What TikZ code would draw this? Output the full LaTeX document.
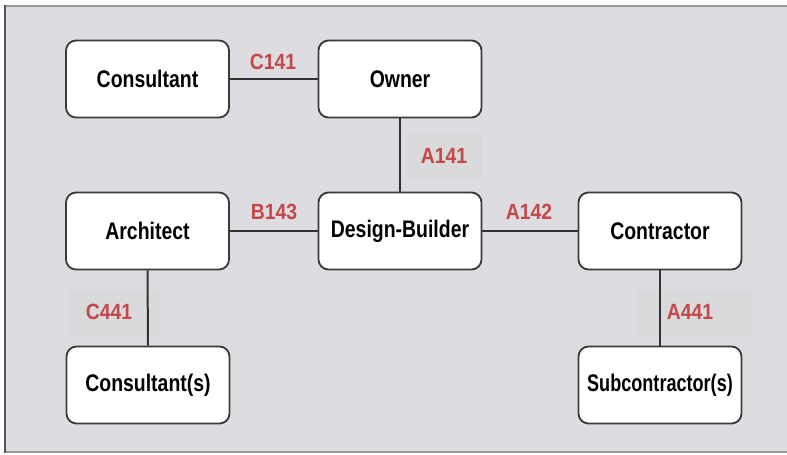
\documentclass[tikz,border=0pt]{standalone}
\usepackage{fontspec}
\newfontfamily\dfont[FakeStretch=0.81]{Liberation Sans}
\newfontfamily\lfont[FakeStretch=0.88]{Liberation Sans}
\definecolor{bgcol}{HTML}{DDDDE1}
\definecolor{patchcol}{HTML}{DADADD}
\definecolor{boxline}{HTML}{3A3A3A}
\definecolor{wirecol}{HTML}{333333}
\definecolor{lblred}{HTML}{C4474A}
\definecolor{framecol}{HTML}{555555}
\definecolor{topcol}{HTML}{9A9A9A}
\tikzset{
  party/.style={rectangle, rounded corners=10pt, draw=boxline, line width=1.8pt, fill=white,
    minimum width=163pt, minimum height=77pt, inner sep=0pt,
    font=\dfont\bfseries\fontsize{24}{28}\selectfont},
  wire/.style={draw=wirecol, line width=2pt},
  doc/.style={text=lblred, inner sep=0pt, font=\lfont\bfseries\fontsize{22}{25}\selectfont},
  patch/.style={fill=patchcol, draw=none}
}
\begin{document}
\begin{tikzpicture}[x=1pt,y=-1pt]
\useasboundingbox (0,0) rectangle (787,455);
\fill[white] (0,0) rectangle (787,455);
\fill[bgcol] (5,6) rectangle (787,452);
\draw[topcol, line width=2pt] (5,6) -- (787,6);
\draw[topcol, line width=1.5pt] (5,452) -- (787,452);
\draw[framecol, line width=2pt] (5,5) -- (5,453);
% faint label patches
\fill[patch] (407,133) rectangle (482,178);
\fill[patch] (68,290) rectangle (160,336);
\fill[patch] (636,290) rectangle (752,336);
% boxes
\node[party] (cons)  at (147.5,79)  {Consultant};
\node[party] (owner) at (400,79)    {Owner};
\node[party] (arch)  at (147.5,231) {Architect};
\node[party] (db)    at (400,231)   {Design-Builder};
\node[party] (contr) at (660,231)   {Contractor};
\node[party] (conss) at (148,385)   {Consultant(s)};
\node[party] (subs)  at (660,385)   {\scalebox{0.93}[1]{Subcontractor(s)}};
% connectors
\draw[wire] (cons.east) -- (owner.west);
\draw[wire] (owner.south) -- (db.north);
\draw[wire] (arch.east) -- (db.west);
\draw[wire] (db.east) -- (contr.west);
\draw[wire] (arch.south) -- (conss.north);
\draw[wire] (contr.south) -- (subs.north);
% labels
\node[doc] (lc141) at (273,62)  {C141};
\node[doc] (la141) at (444,156) {A141};
\node[doc] (lb143) at (274,212) {B143};
\node[doc] (la142) at (529,212) {A142};
\node[doc] (lc441) at (109,312) {C441};
\node[doc] (la441) at (690,312) {A441};
\end{tikzpicture}
\end{document}
